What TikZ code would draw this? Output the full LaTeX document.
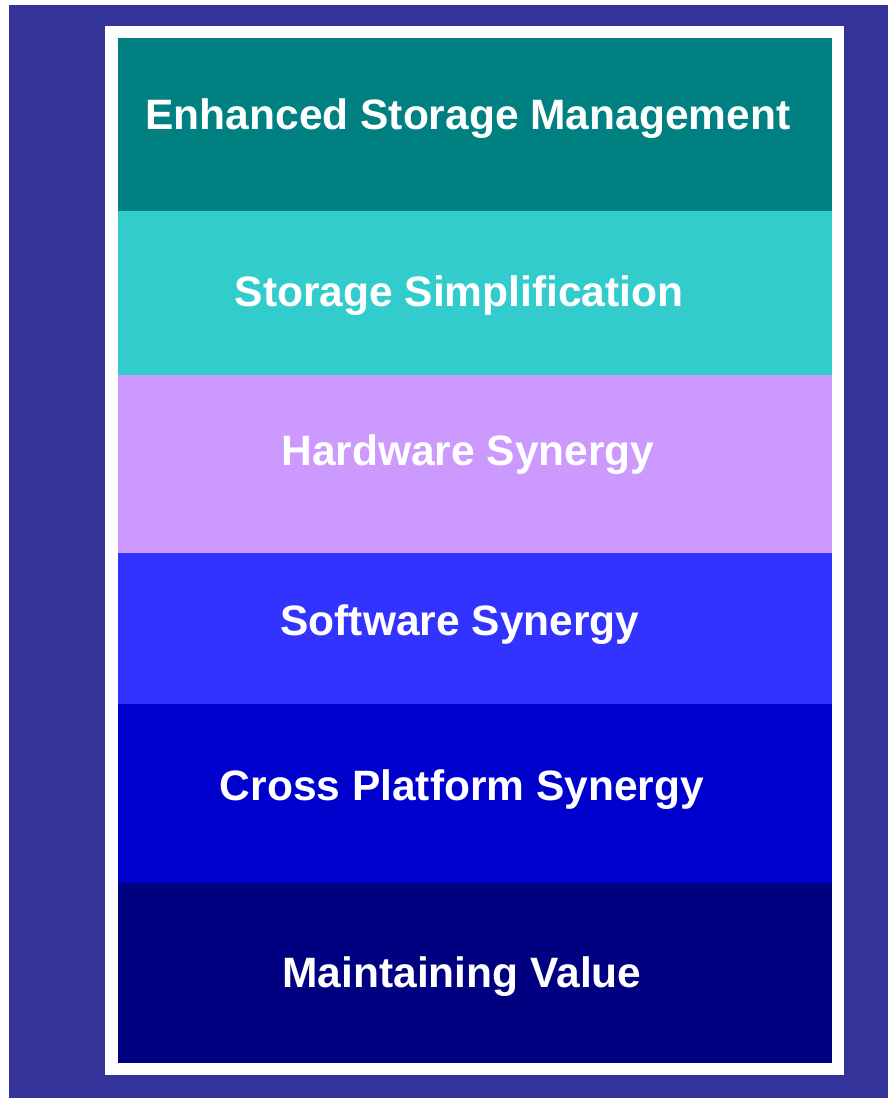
\documentclass[tikz,border=0pt]{standalone}
\usepackage{fontspec}
\setmainfont{Liberation Sans}
\definecolor{bgpurple}{HTML}{333399}
\definecolor{c1}{HTML}{008080}
\definecolor{c2}{HTML}{33CCCC}
\definecolor{c3}{HTML}{CC99FF}
\definecolor{c4}{HTML}{3333FF}
\definecolor{c5}{HTML}{0000CC}
\definecolor{c6}{HTML}{000080}
\tikzset{
  band/.style={fill=#1, draw=none},
  lbl/.style={text=white, font=\fontsize{42.5}{48}\selectfont\bfseries, inner sep=0pt, anchor=center}
}
\begin{document}
\begin{tikzpicture}[x=1pt,y=-1pt]
\useasboundingbox (0,0) rectangle (888,1098);
\fill[white] (0,0) rectangle (888,1098);
\fill[bgpurple] (9,5) rectangle (888,1098);
\fill[white] (105,26) rectangle (844,1075);
\fill[band=c1] (118,38) rectangle (832,211);
\fill[band=c2] (118,211) rectangle (832,375);
\fill[band=c3] (118,375) rectangle (832,553);
\fill[band=c4] (118,553) rectangle (832,704);
\fill[band=c5] (118,704) rectangle (832,883);
\fill[band=c6] (118,883) rectangle (832,1063);
\node[lbl] (t1) at (468,119) {Enhanced Storage Management};
\node[lbl] (t2) at (459,296) {Storage Simplification};
\node[lbl] (t3) at (468,455) {Hardware Synergy};
\node[lbl] (t4) at (460,625) {Software Synergy};
\node[lbl] (t5) at (462,790) {Cross Platform Synergy};
\node[lbl] (t6) at (462,977) {Maintaining Value};
\end{tikzpicture}
\end{document}
